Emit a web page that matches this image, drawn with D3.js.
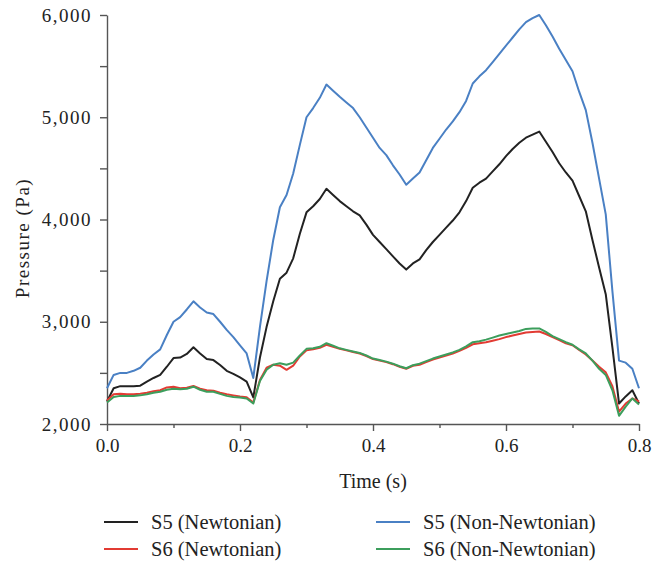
<!DOCTYPE html>
<html>
<head>
<meta charset="utf-8">
<script src="https://cdn.jsdelivr.net/npm/d3@7"></script>
<style>
  body { margin: 0; background: #fff; }
  svg { display: block; }
  .axis path, .axis line { stroke: #555; stroke-width: 1.4; }
  .axis text { font-family: "Liberation Serif", serif; fill: #222; }
</style>
</head>
<body>
<div id="chart"></div>
<script>
// time points (s)
var times = [0.00,0.01,0.02,0.03,0.04,0.05,0.06,0.07,0.08,0.09,
  0.10,0.11,0.12,0.13,0.14,0.15,0.16,0.17,0.18,0.19,
  0.20,0.21,0.22,0.23,0.24,0.25,0.26,0.27,0.28,0.29,
  0.30,0.31,0.32,0.33,0.34,0.35,0.36,0.37,0.38,0.39,
  0.40,0.41,0.42,0.43,0.44,0.45,0.46,0.47,0.48,0.49,
  0.50,0.51,0.52,0.53,0.54,0.55,0.56,0.57,0.58,0.59,
  0.60,0.61,0.62,0.63,0.64,0.65,0.66,0.67,0.68,0.69,
  0.70,0.71,0.72,0.73,0.74,0.75,0.76,0.77,0.78,0.79,0.80];

// pressure (Pa) per series
var s5Newtonian = [2220,2350,2370,2370,2370,2375,2415,2450,2480,2560,
  2645,2650,2685,2750,2690,2635,2625,2577,2520,2490,
  2455,2415,2260,2650,2950,3200,3420,3480,3620,3860,
  4070,4130,4200,4300,4240,4180,4130,4080,4040,3950,
  3850,3780,3710,3640,3570,3510,3570,3610,3700,3780,
  3850,3920,3990,4070,4180,4310,4360,4400,4470,4540,
  4620,4690,4750,4800,4830,4860,4760,4660,4550,4460,
  4380,4230,4080,3800,3530,3270,2750,2200,2270,2330,2200];

var s5NonNewtonian = [2350,2480,2500,2500,2520,2550,2620,2680,2730,2870,
  3000,3045,3120,3200,3140,3090,3075,3000,2920,2850,
  2770,2690,2450,2950,3400,3800,4120,4240,4450,4730,
  5000,5090,5190,5320,5260,5200,5145,5090,5000,4900,
  4800,4700,4630,4530,4440,4340,4400,4460,4580,4700,
  4790,4880,4960,5050,5160,5330,5400,5460,5540,5620,
  5700,5780,5860,5930,5970,6000,5900,5790,5670,5560,
  5450,5250,5070,4750,4400,4050,3300,2620,2600,2540,2350];

var s6Newtonian = [2230,2290,2295,2290,2290,2295,2305,2320,2330,2358,
  2365,2350,2355,2372,2345,2330,2325,2305,2290,2280,
  2270,2262,2210,2430,2550,2580,2570,2530,2570,2660,
  2720,2730,2745,2775,2755,2735,2720,2705,2690,2665,
  2635,2620,2605,2585,2560,2540,2570,2580,2605,2630,
  2650,2670,2690,2715,2745,2780,2790,2800,2815,2830,
  2850,2865,2880,2895,2900,2905,2880,2850,2820,2790,
  2770,2725,2680,2620,2560,2505,2370,2120,2200,2250,2220];

var s6NonNewtonian = [2210,2265,2275,2275,2275,2280,2290,2305,2315,2335,
  2345,2340,2345,2365,2335,2315,2315,2295,2275,2265,
  2260,2250,2200,2420,2530,2580,2595,2580,2600,2670,
  2735,2740,2755,2790,2765,2740,2725,2710,2695,2670,
  2640,2625,2610,2590,2565,2545,2575,2590,2615,2640,
  2660,2680,2700,2725,2760,2800,2810,2825,2845,2865,
  2880,2895,2910,2930,2935,2935,2900,2860,2830,2800,
  2775,2730,2690,2620,2540,2480,2330,2080,2170,2250,2190];

var xTicks = [0, 0.2, 0.4, 0.6, 0.8],
    xMinor = [0.1, 0.3, 0.5, 0.7],
    yTicks = [2000, 3000, 4000, 5000, 6000],
    yMinor = [2500, 3500, 4500, 5500];

var series = [
  {name: "S5 (Newtonian)", values: s5Newtonian, color: "#222222"},
  {name: "S5 (Non-Newtonian)", values: s5NonNewtonian, color: "#4a80c4"},
  {name: "S6 (Newtonian)", values: s6Newtonian, color: "#e23b33"},
  {name: "S6 (Non-Newtonian)", values: s6NonNewtonian, color: "#3c9e5c"}
];

var width = 671, height = 567;
var svg = d3.select("#chart").append("svg")
    .attr("width", width)
    .attr("height", height);

var xScale = d3.scaleLinear().domain([0, 0.8]).range([107, 639]),
    yScale = d3.scaleLinear().domain([2000, 6000]).range([424, 15]);

// y axis
var yAxis = svg.append("g")
    .attr("class", "axis")
    .attr("transform", "translate(" + xScale(0) + ",0)")
    .call(d3.axisLeft(yScale).tickValues(yTicks).tickFormat(d3.format(","))
          .tickSize(7).tickSizeOuter(0).tickPadding(8));
yAxis.selectAll("text").style("font-size", "19px").style("letter-spacing", "1.5px");
svg.append("g")
    .attr("class", "axis")
    .attr("transform", "translate(" + xScale(0) + ",0)")
    .call(d3.axisLeft(yScale).tickValues(yMinor).tickFormat("")
          .tickSize(7).tickSizeOuter(0))
    .select(".domain").remove();

// x axis
var xAxis = svg.append("g")
    .attr("class", "axis")
    .attr("transform", "translate(0," + yScale(2000) + ")")
    .call(d3.axisBottom(xScale).tickValues(xTicks).tickFormat(d3.format(".1f"))
          .tickSize(7).tickSizeOuter(0).tickPadding(8));
xAxis.selectAll("text").style("font-size", "19px");
svg.append("g")
    .attr("class", "axis")
    .attr("transform", "translate(0," + yScale(2000) + ")")
    .call(d3.axisBottom(xScale).tickValues(xMinor).tickFormat("")
          .tickSize(4).tickSizeOuter(0))
    .select(".domain").remove();

// axis titles
svg.append("text")
    .attr("x", 373).attr("y", 488)
    .attr("text-anchor", "middle")
    .style("font-family", "Liberation Serif, serif")
    .style("font-size", "20px")
    .style("fill", "#222")
    .text("Time (s)");

svg.append("text")
    .attr("transform", "translate(29,238) rotate(-90)")
    .attr("text-anchor", "middle")
    .style("font-family", "Liberation Serif, serif")
    .style("font-size", "19px")
    .style("letter-spacing", "1.5px")
    .style("fill", "#222")
    .text("Pressure (Pa)");

// lines
var line = d3.line()
    .x(function(d, i) { return xScale(times[i]); })
    .y(function(d) { return yScale(d); });

svg.selectAll("path.series")
    .data(series)
    .enter().append("path")
    .attr("class", "series")
    .attr("d", function(d) { return line(d.values); })
    .attr("fill", "none")
    .attr("stroke", function(d) { return d.color; })
    .attr("stroke-width", 2)
    .attr("stroke-linejoin", "round");

// legend
var legendPos = [
  {x: 104, y: 524}, {x: 376, y: 524},
  {x: 104, y: 551}, {x: 376, y: 551}
];
var legend = svg.selectAll("g.legend")
    .data(series)
    .enter().append("g")
    .attr("class", "legend")
    .attr("transform", function(d, i) {
      return "translate(" + legendPos[i].x + "," + legendPos[i].y + ")";
    });
legend.append("line")
    .attr("x1", 0).attr("x2", 34)
    .attr("y1", -2).attr("y2", -2)
    .attr("stroke", function(d) { return d.color; })
    .attr("stroke-width", 2);
legend.append("text")
    .attr("x", 47).attr("y", 5)
    .style("font-family", "Liberation Serif, serif")
    .style("font-size", "20.5px")
    .style("fill", "#222")
    .text(function(d) { return d.name; });
</script>
</body>
</html>
